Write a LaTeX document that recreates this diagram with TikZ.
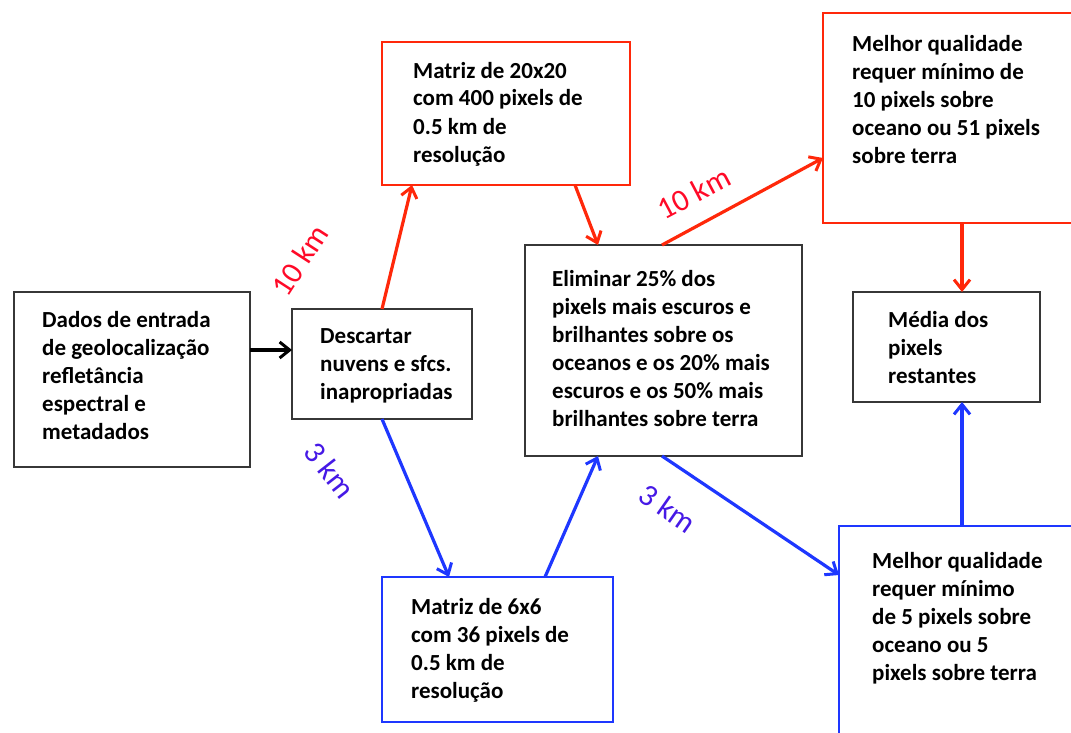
\documentclass[tikz,border=0pt]{standalone}
\usepackage{fontspec}
\setmainfont{Carlito}
\usetikzlibrary{arrows.meta}
\definecolor{redline}{RGB}{255,40,10}
\definecolor{redtext}{RGB}{255,10,40}
\definecolor{blueline}{RGB}{30,55,255}
\definecolor{bluetext}{RGB}{70,25,230}
\definecolor{boxgray}{RGB}{55,55,55}
\begin{document}
\begin{tikzpicture}[x=1pt,y=-1pt,
  boxbase/.style={draw,rectangle,anchor=north west,inner sep=0pt,outer sep=0pt,fill=white},
  blackbox/.style={boxbase,draw=boxgray,line width=2pt},
  redbox/.style={boxbase,draw=redline,line width=2.6pt},
  bluebox/.style={boxbase,draw=blueline,line width=2.6pt},
  boxtext/.style={anchor=base west,inner sep=0pt,align=left,font=\fontsize{23}{28}\selectfont\bfseries,text=black},
  arr/.style={line width=3.2pt,-{Straight Barb[length=10pt,width=16pt,line width=3pt]}},
  redarr/.style={arr,draw=redline},
  bluearr/.style={arr,draw=blueline},
  blackarr/.style={arr,draw=black},
  kmlabel/.style={font=\fontsize{31}{33}\selectfont,inner sep=0pt}
]
\clip (0,0) rectangle (1071,733);
\fill[white] (0,0) rectangle (1071,733);

% boxes
\node[blackbox,minimum width=236pt,minimum height=175pt] (in) at (14,292) {};
\node[blackbox,minimum width=180pt,minimum height=110pt] (desc) at (292,309) {};
\node[redbox,minimum width=248pt,minimum height=143pt] (red1) at (382,42) {};
\node[blackbox,minimum width=277pt,minimum height=211pt] (mid) at (525,245) {};
\node[redbox,minimum width=300pt,minimum height=210pt] (red2) at (823,13) {};
\node[blackbox,minimum width=187pt,minimum height=110pt] (med) at (853,292) {};
\node[bluebox,minimum width=231pt,minimum height=145pt] (blue1) at (382,577) {};
\node[bluebox,minimum width=300pt,minimum height=300pt] (blue2) at (839,526) {};

% texts (anchored at the baseline of their last line)
\node[boxtext] (in-t) at (42,439) {Dados de entrada\\de geolocalização\\refletância\\espectral e\\metadados};
\node[boxtext] (desc-t) at (320,399) {Descartar\\nuvens e sfcs.\\inapropriadas};
\node[boxtext] (red1-t) at (413,162) {Matriz de 20x20\\com 400 pixels de\\0.5 km de\\resolução};
\node[boxtext] (mid-t) at (552,426) {Eliminar 25\% dos\\pixels mais escuros e\\brilhantes sobre os\\oceanos e os 20\% mais\\escuros e os 50\% mais\\brilhantes sobre terra};
\node[boxtext] (red2-t) at (852,164) {Melhor qualidade\\requer mínimo de\\10 pixels sobre\\oceano ou 51 pixels\\sobre terra};
\node[boxtext] (med-t) at (888,383) {Média dos\\pixels\\restantes};
\node[boxtext] (blue1-t) at (411,698) {Matriz de 6x6\\com 36 pixels de\\0.5 km de\\resolução};
\node[boxtext] (blue2-t) at (872,680) {Melhor qualidade\\requer mínimo\\de 5 pixels sobre\\oceano ou 5\\pixels sobre terra};

% connectors
\draw[blackarr] ([yshift=29.5pt]in.east) -- ([yshift=14pt]desc.west);
\draw[redarr] ([xshift=90pt]desc.north west) -- ([xshift=30pt]red1.south west);
\draw[redarr] ([xshift=193pt]red1.south west) -- ([xshift=73pt]mid.north west);
\draw[redarr] ([xshift=137pt]mid.north west) -- ([yshift=-40pt]red2.west);
\draw[redarr] ([xshift=139pt]red2.south west) -- ([xshift=109pt]med.north west);
\draw[bluearr] ([xshift=90pt]desc.south west) -- ([xshift=67pt]blue1.north west);
\draw[bluearr] ([xshift=163pt]blue1.north west) -- ([xshift=73pt]mid.south west);
\draw[bluearr] ([xshift=137pt]mid.south west) -- ([yshift=-49pt]blue2.north west);
\draw[bluearr] ([xshift=123pt]blue2.north west) -- ([xshift=109pt]med.south west);

% labels
\node[kmlabel,text=redtext,rotate=57] (lab1) at (300,260) {10 km};
\node[kmlabel,text=redtext,rotate=28] (lab2) at (694,193) {10 km};
\node[kmlabel,text=bluetext,rotate=-52] (lab3) at (330,470) {3 km};
\node[kmlabel,text=bluetext,rotate=-35] (lab4) at (668,508) {3 km};
\end{tikzpicture}
\end{document}
